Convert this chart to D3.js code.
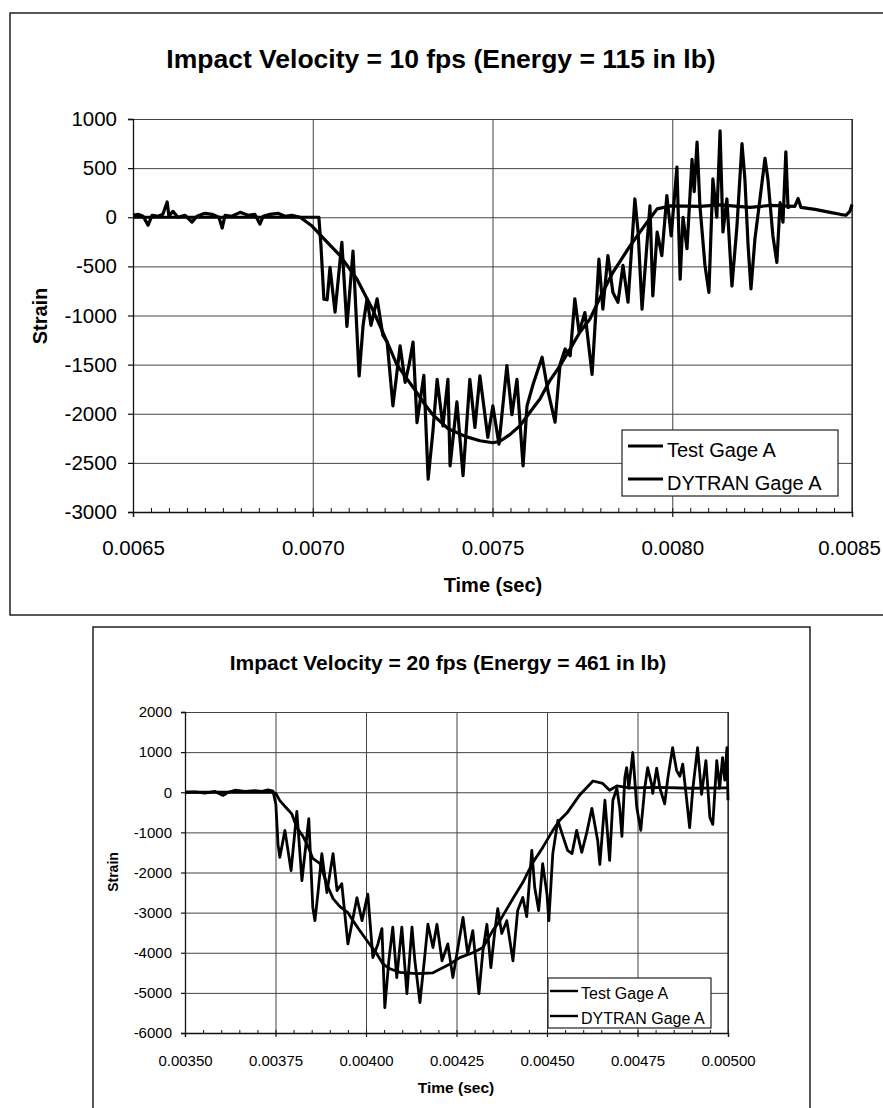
<!DOCTYPE html>
<html>
<head>
<meta charset="utf-8">
<script src="https://cdn.jsdelivr.net/npm/d3@7"></script>
<style>
  body { margin: 0; background: #fff; }
  svg { display: block; font-family: "Liberation Sans", Arial, sans-serif; }
</style>
</head>
<body>
<svg id="chart" width="883" height="1108"></svg>
<script>
// ---- data ----
const seriesNames = ["Test Gage A", "DYTRAN Gage A"];
const titles = ["Impact Velocity = 10 fps (Energy = 115 in lb)", "Impact Velocity = 20 fps (Energy = 461 in lb)"];
const xTitle = "Time (sec)";
const yTitle = "Strain";

const topXTicks = [0.0065, 0.0070, 0.0075, 0.0080, 0.0085];
const topYTicks = [1000, 500, 0, -500, -1000, -1500, -2000, -2500, -3000];
const botXTicks = [0.00350, 0.00375, 0.00400, 0.00425, 0.00450, 0.00475, 0.00500];
const botYTicks = [2000, 1000, 0, -1000, -2000, -3000, -4000, -5000, -6000];

// top chart, 10 fps
const topTestTime = [
  0.006500, 0.006514, 0.006528, 0.006542, 0.006553, 0.006570, 0.006583, 0.006595, 0.006600, 0.006611,
  0.006625, 0.006645, 0.006664, 0.006678, 0.006700, 0.006720, 0.006739, 0.006748, 0.006756, 0.006775,
  0.006798, 0.006820, 0.006839, 0.006853, 0.006862, 0.006881, 0.006903, 0.006923, 0.006942, 0.006965,
  0.006978, 0.007017, 0.007023, 0.007031, 0.007040, 0.007048, 0.007062, 0.007081, 0.007095, 0.007112,
  0.007129, 0.007140, 0.007151, 0.007162, 0.007179, 0.007195, 0.007207, 0.007223, 0.007243, 0.007257,
  0.007268, 0.007279, 0.007290, 0.007309, 0.007321, 0.007334, 0.007346, 0.007362, 0.007376, 0.007382,
  0.007401, 0.007418, 0.007437, 0.007451, 0.007465, 0.007487, 0.007501, 0.007518, 0.007540, 0.007554,
  0.007568, 0.007585, 0.007596, 0.007613, 0.007638, 0.007654, 0.007674, 0.007688, 0.007702, 0.007716,
  0.007729, 0.007741, 0.007757, 0.007777, 0.007788, 0.007796, 0.007807, 0.007821, 0.007835, 0.007849,
  0.007863, 0.007877, 0.007896, 0.007905, 0.007916, 0.007930, 0.007938, 0.007946, 0.007958, 0.007971,
  0.007985, 0.007997, 0.008013, 0.008022, 0.008030, 0.008041, 0.008055, 0.008061, 0.008069, 0.008077,
  0.008091, 0.008102, 0.008113, 0.008124, 0.008133, 0.008141, 0.008152, 0.008166, 0.008180, 0.008194,
  0.008202, 0.008211, 0.008219, 0.008230, 0.008244, 0.008258, 0.008266, 0.008280, 0.008291, 0.008300,
  0.008308, 0.008316, 0.008322, 0.008328
];
const topTestStrain = [
  20, 30, 10, -80, 20, 10, 30, 155, 10, 60,
  0, 20, -50, 10, 40, 30, 0, -110, 20, 10,
  50, 20, 30, -70, 10, 30, 40, 10, 20, 0,
  0, 0, -300, -835, -840, -510, -965, -255, -1110, -345,
  -1616, -1100, -830, -1100, -830, -1200, -1270, -1920, -1310, -1680,
  -1500, -1270, -2090, -1610, -2665, -2190, -1650, -2125, -1650, -2530,
  -1880, -2630, -1650, -2140, -1615, -2240, -1920, -2310, -1510, -2010,
  -1650, -2530, -1920, -1700, -1425, -1765, -2085, -1495, -1340, -1410,
  -830, -1170, -970, -1600, -935, -425, -935, -390, -765, -865,
  -490, -865, 186, -150, -935, -255, 115, -800, -150, -390,
  220, -190, 510, -630, 0, -320, 590, 260, 765, 115,
  -490, -765, 390, 0, 880, -150, 186, -700, -90, 750,
  390, -290, -730, -220, 186, 600, 390, -190, -460, 150,
  -50, 665, 100, 110
];
const topDytranTime = [
  0.006500, 0.006965, 0.006998, 0.007034, 0.007076, 0.007123, 0.007168, 0.007201, 0.007234, 0.007257,
  0.007279, 0.007307, 0.007334, 0.007376, 0.007424, 0.007465, 0.007501, 0.007521, 0.007549, 0.007577,
  0.007604, 0.007632, 0.007660, 0.007688, 0.007716, 0.007743, 0.007771, 0.007799, 0.007835, 0.007883,
  0.007930, 0.007958, 0.007994, 0.008077, 0.008133, 0.008216, 0.008272, 0.008341, 0.008350, 0.008358,
  0.008397, 0.008439, 0.008467, 0.008483, 0.008494, 0.008500
];
const topDytranStrain = [
  0, 0, -90, -230, -390, -630, -950, -1220, -1500, -1620,
  -1730, -1880, -2010, -2150, -2230, -2275, -2295, -2280, -2210, -2120,
  -1985, -1850, -1660, -1510, -1340, -1170, -1035, -820, -560, -290,
  -50, 85, 115, 110, 125, 100, 120, 110, 190, 100,
  80, 50, 30, 20, 60, 130
];

// bottom chart, 20 fps
const botTestTime = [
  0.003500, 0.003528, 0.003555, 0.003583, 0.003605, 0.003619, 0.003638, 0.003666, 0.003693, 0.003713,
  0.003729, 0.003743, 0.003751, 0.003757, 0.003762, 0.003776, 0.003793, 0.003809, 0.003823, 0.003842,
  0.003853, 0.003859, 0.003867, 0.003878, 0.003892, 0.003909, 0.003920, 0.003933, 0.003950, 0.003975,
  0.003989, 0.004005, 0.004019, 0.004033, 0.004044, 0.004052, 0.004063, 0.004074, 0.004085, 0.004099,
  0.004113, 0.004127, 0.004135, 0.004149, 0.004163, 0.004171, 0.004185, 0.004196, 0.004210, 0.004226,
  0.004240, 0.004254, 0.004268, 0.004281, 0.004295, 0.004312, 0.004323, 0.004334, 0.004345, 0.004356,
  0.004364, 0.004375, 0.004389, 0.004406, 0.004419, 0.004433, 0.004444, 0.004458, 0.004466, 0.004477,
  0.004488, 0.004500, 0.004505, 0.004516, 0.004530, 0.004544, 0.004557, 0.004569, 0.004582, 0.004596,
  0.004610, 0.004624, 0.004640, 0.004646, 0.004660, 0.004673, 0.004682, 0.004693, 0.004701, 0.004707,
  0.004715, 0.004720, 0.004726, 0.004737, 0.004748, 0.004759, 0.004770, 0.004778, 0.004789, 0.004792,
  0.004803, 0.004812, 0.004825, 0.004834, 0.004847, 0.004858, 0.004867, 0.004875, 0.004886, 0.004894,
  0.004903, 0.004916, 0.004927, 0.004939, 0.004950, 0.004958, 0.004969, 0.004977, 0.004985, 0.004991,
  0.004997, 0.005000
];
const botTestStrain = [
  0, 10, -20, 20, -80, 0, 50, 20, 40, 20,
  60, 30, -300, -1300, -1620, -950, -1950, -480, -2200, -660,
  -2870, -3200, -2535, -1530, -2500, -1530, -2450, -2280, -3780, -2630,
  -3200, -2540, -4120, -3780, -3400, -5370, -4200, -3360, -4620, -3360,
  -5020, -3360, -4200, -5240, -4030, -3290, -3870, -3290, -4200, -3780,
  -4620, -3870, -3120, -4030, -3450, -5020, -3950, -3290, -4370, -3450,
  -2900, -3520, -3200, -4200, -2950, -2620, -3100, -1450, -2370, -2950,
  -1780, -2540, -3200, -1530, -700, -1100, -1450, -1530, -950, -1500,
  -1000, -400, -1200, -1800, -200, -1700, -200, 100, -400, -1100,
  365, 615, 100, 990, -380, -950, 100, 615, 200, -30,
  600, 100, -290, 365, 1110, 540, 400, 700, -200, -880,
  100, 1110, -50, 790, -630, -800, 790, 100, 865, 300,
  1110, -200
];
const botDytranTime = [
  0.003500, 0.003743, 0.003751, 0.003762, 0.003782, 0.003795, 0.003809, 0.003826, 0.003840, 0.003853,
  0.003873, 0.003892, 0.003909, 0.003928, 0.003950, 0.003964, 0.003983, 0.004003, 0.004030, 0.004047,
  0.004066, 0.004094, 0.004141, 0.004185, 0.004232, 0.004259, 0.004295, 0.004323, 0.004350, 0.004370,
  0.004406, 0.004433, 0.004461, 0.004488, 0.004516, 0.004535, 0.004555, 0.004591, 0.004627, 0.004654,
  0.004673, 0.004693, 0.004729, 0.004812, 0.004894, 0.005000
];
const botDytranStrain = [
  0, 0, -30, -210, -410, -540, -880, -1100, -1350, -1650,
  -1780, -2300, -2650, -2850, -3000, -3200, -3450, -3700, -4030, -4280,
  -4400, -4490, -4520, -4500, -4280, -4120, -4000, -3870, -3450, -3200,
  -2650, -2250, -1750, -1380, -950, -700, -520, -60, 280, 220,
  50, 160, 110, 120, 100, 110
];

const svg = d3.select("#chart");

function drawPanel(p) {
  let g = svg.append("g");

  // outer chart-area border
  g.append("rect")
    .attr("x", p.frame[0]).attr("y", p.frame[1])
    .attr("width", p.frame[2]).attr("height", p.frame[3])
    .attr("fill", "none").attr("stroke", "#111").attr("stroke-width", 1.4);

  let x = d3.scaleLinear().domain(p.xDomain).range([p.left, p.right]);
  let y = d3.scaleLinear().domain(p.yDomain).range([p.bottom, p.top]);

  // gridlines
  g.append("g")
    .attr("transform", `translate(${p.left},0)`)
    .call(d3.axisLeft(y).tickValues(p.yTicks).tickSizeInner(-(p.right - p.left)).tickSizeOuter(0).tickFormat(""))
    .call(a => a.select(".domain").remove())
    .selectAll("line").attr("stroke", "#444").attr("stroke-width", 1);
  g.append("g")
    .attr("transform", `translate(0,${p.bottom})`)
    .call(d3.axisBottom(x).tickValues(p.xTicks).tickSizeInner(-(p.bottom - p.top)).tickSizeOuter(0).tickFormat(""))
    .call(a => a.select(".domain").remove())
    .selectAll("line").attr("stroke", "#444").attr("stroke-width", 1);

  // minor ticks on the time axis (inside)
  g.append("g")
    .attr("transform", `translate(0,${p.bottom})`)
    .call(d3.axisBottom(x).tickValues(x.ticks(p.minorCount)).tickSizeInner(-p.minorLen).tickSizeOuter(0).tickFormat(""))
    .call(a => a.select(".domain").remove())
    .selectAll("line").attr("stroke", "#111").attr("stroke-width", 1);

  // axes with labels
  let yAxis = g.append("g")
    .attr("transform", `translate(${p.left},0)`)
    .call(d3.axisLeft(y).tickValues(p.yTicks).tickSize(p.tickOut).tickPadding(p.yPad).tickFormat(d => String(d)));
  let xAxis = g.append("g")
    .attr("transform", `translate(0,${p.bottom})`)
    .call(d3.axisBottom(x).tickValues(p.xTicks).tickSize(p.tickOut).tickPadding(p.xPad).tickFormat(p.xFmt));
  [yAxis, xAxis].forEach(a => {
    a.attr("font-family", null).attr("font-size", null);
    a.select(".domain").attr("stroke", "#111").attr("stroke-width", 1.3);
    a.selectAll("line").attr("stroke", "#111").attr("stroke-width", 1.2);
    a.selectAll("text").attr("fill", "#000").style("font-size", p.tickFont + "px");
  });
  // keep the last time label inside the page
  xAxis.selectAll(".tick:last-of-type text").attr("dx", p.lastDx || 0);

  // right edge of the plot area
  g.append("line")
    .attr("x1", p.right).attr("x2", p.right).attr("y1", p.top).attr("y2", p.bottom)
    .attr("stroke", "#222").attr("stroke-width", 1.2);

  // series
  let line = d3.line().x(d => x(d[0])).y(d => y(d[1]));
  p.series.forEach(s => {
    g.append("path")
      .datum(d3.zip(s.time, s.strain))
      .attr("d", line)
      .attr("fill", "none")
      .attr("stroke", "#000")
      .attr("stroke-width", p.lineWidth)
      .attr("stroke-linejoin", "round");
  });

  // titles
  g.append("text")
    .attr("x", p.titleX).attr("y", p.titleY)
    .attr("text-anchor", "middle")
    .style("font-weight", "bold").style("font-size", p.titleSize + "px")
    .text(p.title);
  g.append("text")
    .attr("x", p.xTitleX).attr("y", p.xTitleY)
    .attr("text-anchor", "middle")
    .style("font-weight", "bold").style("font-size", p.axisTitleSize + "px")
    .text(xTitle);
  g.append("text")
    .attr("transform", `translate(${p.yTitleX},${p.yTitleY}) rotate(-90)`)
    .attr("text-anchor", "middle").attr("dy", "0.35em")
    .style("font-weight", "bold").style("font-size", p.yTitleSize + "px")
    .text(yTitle);

  // legend
  let lg = p.legend;
  g.append("rect")
    .attr("x", lg.x).attr("y", lg.y).attr("width", lg.w).attr("height", lg.h)
    .attr("fill", "#fff").attr("stroke", "#222").attr("stroke-width", 1.2);
  seriesNames.forEach((name, i) => {
    g.append("line")
      .attr("x1", lg.x1).attr("x2", lg.x2).attr("y1", lg.rows[i]).attr("y2", lg.rows[i])
      .attr("stroke", "#000").attr("stroke-width", lg.lineWidth);
    g.append("text")
      .attr("x", lg.textX).attr("y", lg.rows[i] + lg.baseOff)
      .style("font-size", lg.font + "px")
      .text(name);
  });
}

drawPanel({
  frame: [10, 13, 900, 602],
  left: 133, right: 852, top: 119, bottom: 512,
  xDomain: [0.0065, 0.0085], yDomain: [-3000, 1000],
  xTicks: topXTicks, yTicks: topYTicks, xFmt: d3.format(".4f"),
  minorCount: 40, minorLen: 4, tickOut: 5, yPad: 11, xPad: 23, tickFont: 20.5, lastDx: -3,
  lineWidth: 3.2,
  series: [
    {time: topTestTime, strain: topTestStrain},
    {time: topDytranTime, strain: topDytranStrain}
  ],
  title: titles[0], titleX: 441, titleY: 68, titleSize: 26.5,
  xTitleX: 493, xTitleY: 592, axisTitleSize: 20,
  yTitleX: 40, yTitleY: 316, yTitleSize: 20,
  legend: {x: 622, y: 430, w: 216, h: 66, x1: 628, x2: 663, textX: 667, rows: [446, 479], baseOff: 11, font: 20, lineWidth: 2.8}
});

drawPanel({
  frame: [93, 627, 717, 500],
  left: 185, right: 728, top: 712, bottom: 1033,
  xDomain: [0.0035, 0.0050], yDomain: [-6000, 2000],
  xTicks: botXTicks, yTicks: botYTicks, xFmt: d3.format(".5f"),
  minorCount: 30, minorLen: 3, tickOut: 4, yPad: 9, xPad: 18, tickFont: 15, lastDx: 0,
  lineWidth: 2.8,
  series: [
    {time: botTestTime, strain: botTestStrain},
    {time: botDytranTime, strain: botDytranStrain}
  ],
  title: titles[1], titleX: 448, titleY: 670, titleSize: 21,
  xTitleX: 456, xTitleY: 1093, axisTitleSize: 15.5,
  yTitleX: 113, yTitleY: 872, yTitleSize: 14,
  legend: {x: 548, y: 978, w: 163, h: 50, x1: 550, x2: 578, textX: 581, rows: [991, 1016], baseOff: 8, font: 16, lineWidth: 2.4}
});
</script>
</body>
</html>
